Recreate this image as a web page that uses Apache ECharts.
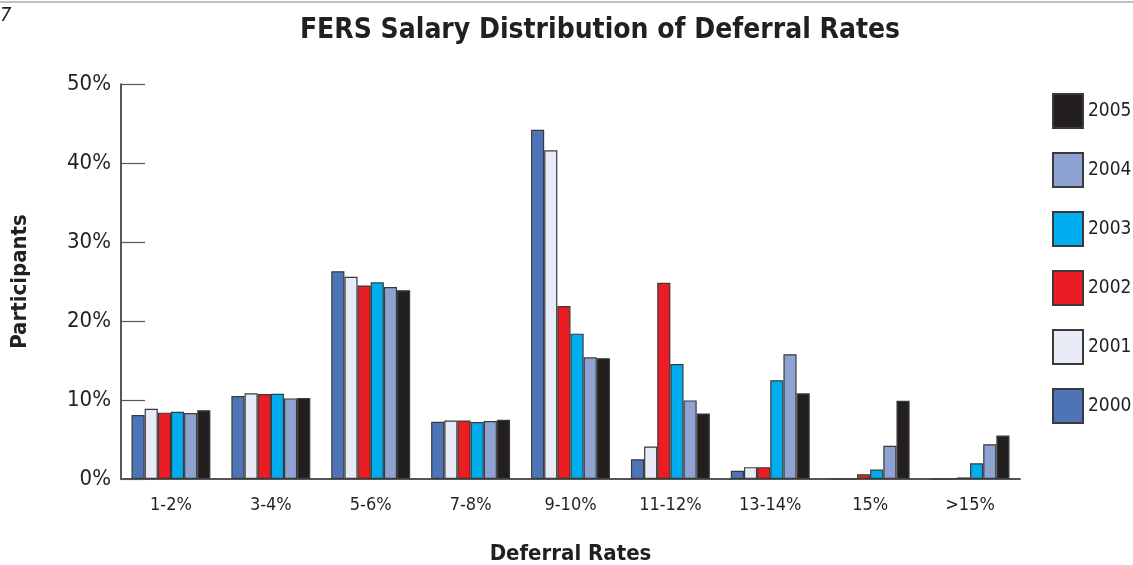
<!DOCTYPE html>
<html>
<head>
<meta charset="utf-8">
<script src="https://cdn.jsdelivr.net/npm/echarts@6/dist/echarts.min.js"></script>
<style>
  html, body { margin: 0; padding: 0; background: #fff; }
  #main { width: 1133px; height: 565px; }
</style>
</head>
<body>
<div id="main"></div>
<script>
var categories = ['1-2%', '3-4%', '5-6%', '7-8%', '9-10%', '11-12%', '13-14%', '15%', '>15%']
var years = ['2000', '2001', '2002', '2003', '2004', '2005']
var v2000 = [8.1, 10.5, 26.3, 7.25, 44.2, 2.5, 1.05, 0, 0]
var v2001 = [8.9, 10.85, 25.6, 7.4, 41.6, 4.1, 1.5, 0, 0]
var v2002 = [8.4, 10.75, 24.5, 7.4, 21.9, 24.85, 1.5, 0.6, 0.2]
var v2003 = [8.5, 10.8, 24.9, 7.2, 18.4, 14.55, 12.5, 1.2, 2.0]
var v2004 = [8.35, 10.2, 24.3, 7.35, 15.4, 9.95, 15.8, 4.2, 4.4]
var v2005 = [8.7, 10.25, 23.9, 7.5, 15.3, 8.3, 10.85, 9.9, 5.5]
var values = [v2000, v2001, v2002, v2003, v2004, v2005]
var colors = ['#4e74b8', '#e8ebf6', '#ec1c24', '#00aeef', '#8fa3d2', '#231f20']

var narrow = "'Liberation Sans Narrow', 'DejaVu Sans Condensed', sans-serif"

var myChart = echarts.init(document.getElementById('main'))

var series = years.map(function (y, i) {
  return {
    name: y,
    type: 'bar',
    data: values[i],
    barGap: '0%',
    barCategoryGap: '21%',
    itemStyle: {
      color: colors[i],
      borderColor: '#3a3a3a',
      borderWidth: 1.2
    }
  }
})

var option = {
  animation: false,
  title: {
    text: 'FERS Salary Distribution of Deferral Rates',
    left: 595,
    top: 12,
    textAlign: 'center',
    textStyle: {
      fontFamily: narrow,
      fontWeight: 'bold',
      fontSize: 28,
      color: '#231f20'
    }
  },
  legend: {
    data: years.slice().reverse(),
    orient: 'vertical',
    left: 1052,
    top: 93,
    padding: 0,
    itemWidth: 30,
    itemHeight: 34,
    itemGap: 23,
    icon: 'rect',
    textStyle: {
      fontFamily: narrow,
      fontSize: 19,
      color: '#231f20'
    }
  },
  grid: {
    left: 121,
    right: 113,
    top: 84,
    bottom: 86,
    outerBoundsMode: 'none'
  },
  xAxis: {
    type: 'category',
    data: categories,
    name: 'Deferral Rates',
    nameLocation: 'middle',
    nameGap: 64,
    nameTextStyle: {
      fontFamily: narrow,
      fontWeight: 'bold',
      fontSize: 22,
      color: '#231f20'
    },
    axisLine: { lineStyle: { color: '#555', width: 2 } },
    axisTick: { show: false },
    axisLabel: {
      fontFamily: narrow,
      fontSize: 18,
      color: '#231f20',
      margin: 17
    }
  },
  yAxis: {
    type: 'value',
    min: 0,
    max: 50,
    interval: 10,
    name: 'Participants',
    nameLocation: 'middle',
    nameGap: 90,
    nameRotate: 90,
    nameTextStyle: {
      fontFamily: narrow,
      fontWeight: 'bold',
      fontSize: 22,
      color: '#231f20'
    },
    axisLine: { show: true, lineStyle: { color: '#231f20', width: 1.5 } },
    axisTick: { show: true, inside: true, length: 24, lineStyle: { color: '#555', width: 1.2 } },
    splitLine: { show: false },
    axisLabel: {
      formatter: '{value}%',
      fontFamily: narrow,
      fontSize: 22,
      color: '#231f20',
      margin: 10
    }
  },
  graphic: [
    {
      type: 'line',
      shape: { x1: 0, y1: 2, x2: 1133, y2: 2 },
      style: { stroke: '#aaa', lineWidth: 1.5 }
    },
    {
      type: 'text',
      left: 0,
      top: 6,
      style: {
        text: '7',
        fontFamily: narrow,
        fontStyle: 'italic',
        fontSize: 20,
        fill: '#231f20'
      }
    }
  ],
  series: series
}

myChart.setOption(option)
</script>
</body>
</html>
